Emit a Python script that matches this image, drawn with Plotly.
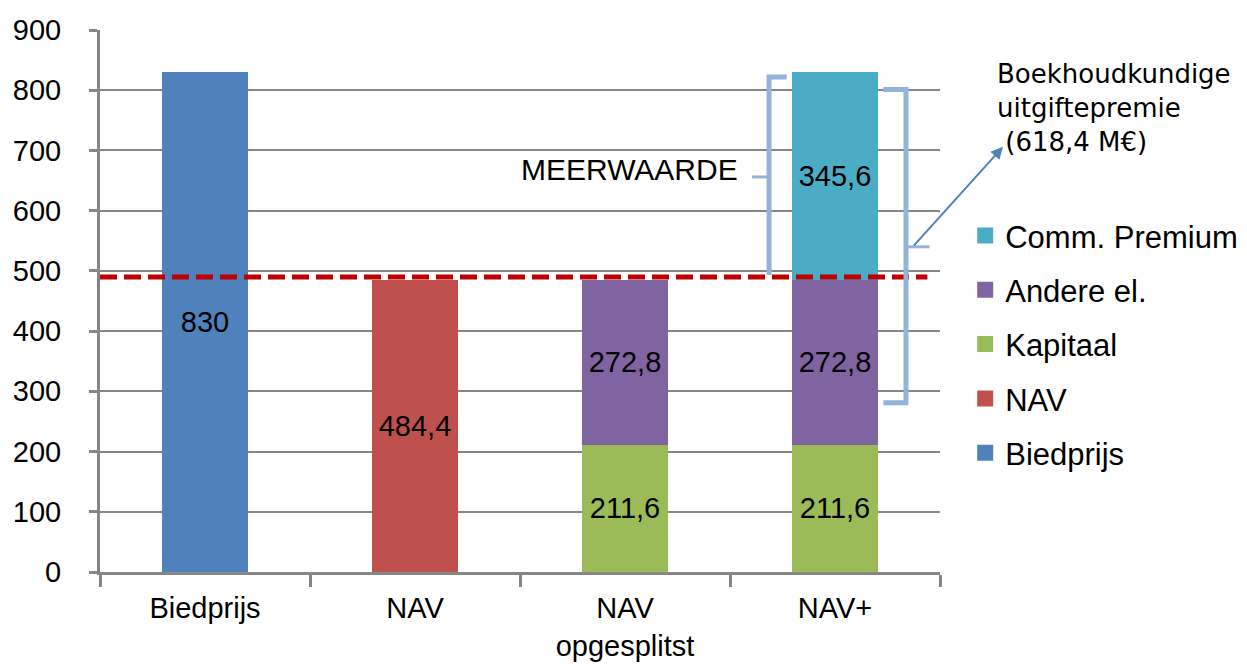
import plotly.graph_objects as go

categories = ["Biedprijs", "NAV", "NAV<br>opgesplitst", "NAV+"]

biedprijs = [830, None, None, None]
nav = [None, 484.4, None, None]
kapitaal = [None, None, 211.6, 211.6]
andere = [None, None, 272.8, 272.8]
comm_premium = [None, None, None, 345.6]

series = [
    ("Biedprijs", biedprijs, "#4F81BD"),
    ("NAV", nav, "#C0504D"),
    ("Kapitaal", kapitaal, "#9BBB59"),
    ("Andere el.", andere, "#8064A2"),
    ("Comm. Premium", comm_premium, "#4BACC6"),
]

nav_line = 490
meerwaarde_label = "MEERWAARDE"
premie_label = "Boekhoudkundige<br>uitgiftepremie<br> (618,4 M€)"

FONT = "Liberation Sans"
GRID = "#868686"
BRACKET = "#95B3D7"


def fmt(v):
    if v is None:
        return ""
    return f"{v:g}".replace(".", ",")


fig = go.Figure()

for name, vals, color in series:
    fig.add_trace(
        go.Bar(
            x=categories,
            y=vals,
            name=name,
            marker=dict(color=color, line=dict(width=0)),
            text=[fmt(v) for v in vals],
            textposition="inside",
            insidetextanchor="middle",
            textangle=0,
            constraintext="none",
            textfont=dict(family=FONT, size=29, color="black"),
            showlegend=False,
        )
    )

# legend entries with larger square swatches, top to bottom
for name, vals, color in reversed(series):
    fig.add_trace(
        go.Scatter(
            x=[None],
            y=[None],
            mode="markers",
            name=name,
            legendgroup=name,
            marker=dict(symbol="square", size=20, color=color),
        )
    )

shapes = [
    # dashed NAV level
    dict(type="line", xref="x", yref="y", x0=-0.5, x1=3.44, y0=nav_line, y1=nav_line,
         line=dict(color="#C00000", width=5, dash="17px,7px")),
    # left bracket (meerwaarde)
    dict(type="path", xref="x", yref="y",
         path="M 2.77,822 L 2.686,822 L 2.686,493",
         line=dict(color=BRACKET, width=5)),
    dict(type="line", xref="x", yref="y", x0=2.605, x1=2.686, y0=656, y1=656,
         line=dict(color=BRACKET, width=3)),
    # right bracket (uitgiftepremie)
    dict(type="path", xref="x", yref="y",
         path="M 3.23,801 L 3.338,801 L 3.338,281 L 3.23,281",
         line=dict(color=BRACKET, width=5)),
    dict(type="line", xref="x", yref="y", x0=3.338, x1=3.45, y0=540, y1=540,
         line=dict(color=BRACKET, width=3)),
]

annotations = [
    dict(text=meerwaarde_label, xref="x", yref="y", x=2.02, y=668, showarrow=False,
         font=dict(family=FONT, size=30, color="black")),
    dict(text="", xref="x", yref="y", x=3.8, y=706, axref="x", ayref="y", ax=3.37, ay=540,
         showarrow=True, arrowhead=2, arrowsize=1.2, arrowwidth=2, arrowcolor="#4F81BD"),
    dict(text=premie_label, xref="paper", yref="paper", x=1.066, y=0.95,
         xanchor="left", yanchor="top", align="left", showarrow=False,
         font=dict(family="DejaVu Sans", size=26, color="black")),
]

fig.update_layout(
    barmode="stack",
    bargap=0.595,
    width=1247,
    height=672,
    margin=dict(l=92, r=315, t=22, b=108, autoexpand=False),
    plot_bgcolor="white",
    paper_bgcolor="white",
    font=dict(family=FONT, size=29, color="black"),
    shapes=shapes,
    annotations=annotations,
    legend=dict(
        x=1.03, y=0.67, xanchor="left", yanchor="top",
        font=dict(family=FONT, size=31, color="black"),
        traceorder="grouped", tracegroupgap=11, itemwidth=30,
        bgcolor="rgba(0,0,0,0)",
    ),
    xaxis=dict(
        range=[-0.5, 3.5], automargin=False,
        showline=True, linecolor=GRID, linewidth=3,
        ticks="outside", tickson="boundaries", ticklen=12, tickwidth=3, tickcolor=GRID,
        showgrid=False,
        tickfont=dict(family=FONT, size=29),
        ticklabelstandoff=8,
    ),
    yaxis=dict(
        range=[0, 900], dtick=100, automargin=False,
        showline=True, linecolor=GRID, linewidth=3,
        ticks="outside", ticklen=8, tickwidth=3, tickcolor=GRID,
        showgrid=True, gridcolor=GRID, gridwidth=2,
        zeroline=False,
        tickfont=dict(family=FONT, size=29),
        ticklabelstandoff=22,
    ),
)

fig.write_html("out.html")
